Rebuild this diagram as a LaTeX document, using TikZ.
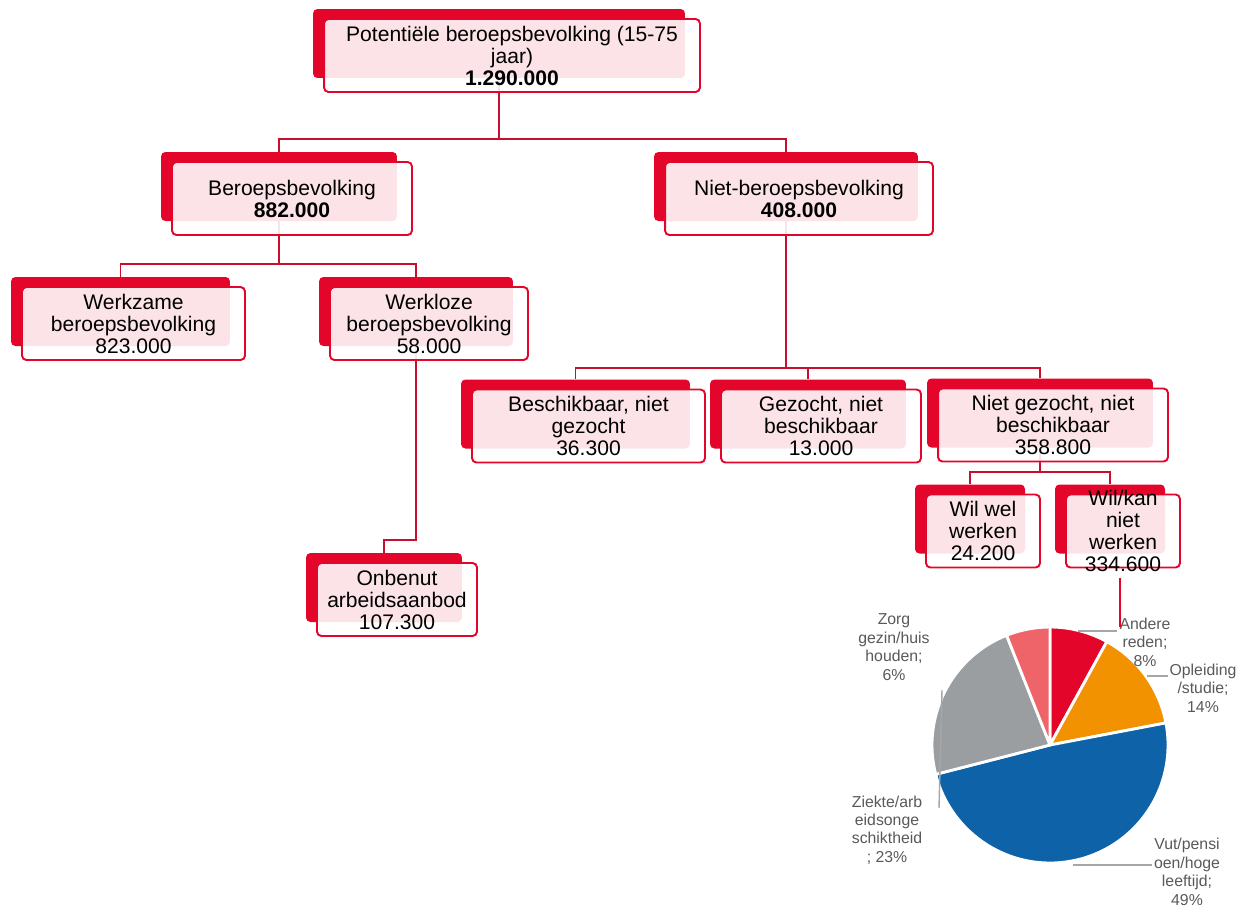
\documentclass[tikz,border=0pt]{standalone}
\usepackage{fontspec}
\setmainfont{Liberation Sans}
\usetikzlibrary{backgrounds}
\definecolor{boxred}{RGB}{227,6,42}
\definecolor{linkred}{RGB}{200,16,46}
\definecolor{pieorange}{RGB}{243,146,0}
\definecolor{pieblue}{RGB}{14,98,168}
\definecolor{piegray}{RGB}{155,158,161}
\definecolor{piesalmon}{RGB}{238,100,104}
\definecolor{labelgray}{RGB}{89,89,89}
\definecolor{leadergray}{RGB}{166,166,166}

\begin{document}
\begin{tikzpicture}[x=0.02cm, y=-0.02cm,
    backbox/.style={rectangle, rounded corners=2.5pt, fill=boxred, inner sep=0pt, minimum height=1.38cm},
    frontbox/.style={rectangle, rounded corners=2.5pt, draw=boxred, line width=1.1pt, fill=white, fill opacity=0.89, inner sep=0pt, minimum height=1.46cm},
    boxtext/.style={align=center, text=black, text opacity=1, inner sep=0pt, font=\fontsize{12}{12.5}\selectfont},
    link/.style={draw=linkred, line width=1.1pt},
    pietext/.style={align=center, text=labelgray, inner sep=1pt, font=\fontsize{9}{10.5}\selectfont},
    leader/.style={draw=leadergray, line width=0.8pt},
    slice/.style={draw=white, line width=1.6pt, line join=round}]
    \useasboundingbox (0,0) rectangle (1250,907);

    % Top level
    \node[backbox, minimum width=7.44cm] (back-1) at (499,43.5) {};
    \node[frontbox, minimum width=7.52cm] (front-1) at ([shift={(13,12)}]back-1) {};
    \node[boxtext] (text-1) at (front-1) {Potentiële beroepsbevolking (15-75\\jaar)\\\textbf{1.290.000}};

    % Second level
    \node[backbox, minimum width=4.72cm] (back-2) at (279,186.5) {};
    \node[frontbox, minimum width=4.80cm] (front-2) at ([shift={(13,12)}]back-2) {};
    \node[boxtext] (text-2) at (front-2) {Beroepsbevolking\\\textbf{882.000}};
    \node[backbox, minimum width=5.28cm] (back-3) at (786,186.5) {};
    \node[frontbox, minimum width=5.36cm] (front-3) at ([shift={(13,12)}]back-3) {};
    \node[boxtext] (text-3) at (front-3) {Niet-beroepsbevolking\\\textbf{408.000}};

    % Third level
    \node[backbox, minimum width=4.38cm] (back-4) at (120.5,311.5) {};
    \node[frontbox, minimum width=4.46cm] (front-4) at ([shift={(13,12)}]back-4) {};
    \node[boxtext] (text-4) at (front-4) {Werkzame\\beroepsbevolking\\823.000};
    \node[backbox, minimum width=3.88cm] (back-5) at (416,311.5) {};
    \node[frontbox, minimum width=3.96cm] (front-5) at ([shift={(13,12)}]back-5) {};
    \node[boxtext] (text-5) at (front-5) {Werkloze\\beroepsbevolking\\58.000};
    \node[backbox, minimum width=4.58cm] (back-6) at (575.5,414) {};
    \node[frontbox, minimum width=4.66cm] (front-6) at ([shift={(13,12)}]back-6) {};
    \node[boxtext] (text-6) at (front-6) {Beschikbaar, niet\\gezocht\\36.300};
    \node[backbox, minimum width=3.92cm] (back-7) at (808,414) {};
    \node[frontbox, minimum width=4.00cm] (front-7) at ([shift={(13,12)}]back-7) {};
    \node[boxtext] (text-7) at (front-7) {Gezocht, niet\\beschikbaar\\13.000};
    \node[backbox, minimum width=4.52cm] (back-8) at (1040,413) {};
    \node[frontbox, minimum width=4.60cm] (front-8) at ([shift={(13,12)}]back-8) {};
    \node[boxtext] (text-8) at (front-8) {Niet gezocht, niet\\beschikbaar\\358.800};

    % Fourth level
    \node[backbox, minimum width=2.20cm] (back-9) at (970,519) {};
    \node[frontbox, minimum width=2.28cm] (front-9) at ([shift={(13,12)}]back-9) {};
    \node[boxtext] (text-9) at (front-9) {Wil wel\\werken\\24.200};
    \node[backbox, minimum width=2.20cm] (back-10) at (1110,519) {};
    \node[frontbox, minimum width=2.28cm] (front-10) at ([shift={(13,12)}]back-10) {};
    \node[boxtext] (text-10) at (front-10) {Wil/kan\\niet\\werken\\334.600};
    \node[backbox, minimum width=3.12cm] (back-11) at (384,587.5) {};
    \node[frontbox, minimum width=3.20cm] (front-11) at ([shift={(13,12)}]back-11) {};
    \node[boxtext] (text-11) at (front-11) {Onbenut\\arbeidsaanbod\\107.300};

    % Connectors
    \coordinate (fork-1) at (499,139);
    \coordinate (fork-2) at (279,264);
    \coordinate (fork-3) at (786,368);
    \coordinate (fork-4) at (1040,472);
    \coordinate (fork-5) at (416,540);
    \begin{pgfonlayer}{background}
        \draw[link] (back-1.south) -- (fork-1) -| (back-2.north);
        \draw[link] (fork-1) -| (back-3.north);
        \draw[link] (back-2.south) -- (fork-2) -| (back-4.north);
        \draw[link] (fork-2) -| (back-5.north);
        \draw[link] (back-3.south) -- (fork-3) -| (back-6.north);
        \draw[link] (fork-3) -| (back-7.north);
        \draw[link] (fork-3) -| (back-8.north);
        \draw[link] (back-8.south) -- (fork-4) -| (back-9.north);
        \draw[link] (fork-4) -| (back-10.north);
        \draw[link] (back-5.south) -- (fork-5) -| (back-11.north);
    \end{pgfonlayer}

    % Pie chart
    \coordinate (pie-c) at (1050,745);
    \path[slice, fill=boxred] (pie-c) -- ++(90:2.36cm) arc[start angle=90, end angle=61.2, radius=2.36cm] -- cycle;
    \path[slice, fill=pieorange] (pie-c) -- ++(61.2:2.36cm) arc[start angle=61.2, end angle=10.8, radius=2.36cm] -- cycle;
    \path[slice, fill=pieblue] (pie-c) -- ++(10.8:2.36cm) arc[start angle=10.8, end angle=-165.6, radius=2.36cm] -- cycle;
    \path[slice, fill=piegray] (pie-c) -- ++(-165.6:2.36cm) arc[start angle=-165.6, end angle=-248.4, radius=2.36cm] -- cycle;
    \path[slice, fill=piesalmon] (pie-c) -- ++(-248.4:2.36cm) arc[start angle=-248.4, end angle=-270, radius=2.36cm] -- cycle;

    \node[pietext] (lab-andere) at (1145,642) {Andere\\reden;\\8\%};
    \node[pietext] (lab-opleiding) at (1203,688) {Opleiding\\/studie;\\14\%};
    \node[pietext] (lab-vut) at (1187,872) {Vut/pensi\\oen/hoge\\leeftijd;\\49\%};
    \node[pietext] (lab-ziekte) at (887,830) {Ziekte/arb\\eidsonge\\schiktheid\\; 23\%};
    \node[pietext] (lab-zorg) at (894,647) {Zorg\\gezin/huis\\houden;\\6\%};

    \coordinate (pt-andere) at (1078,631);
    \coordinate (pt-opleiding) at (1147,676);
    \coordinate (pt-vut) at (1073,865);
    \coordinate (pt-ziekte) at (942,690);
    \coordinate (end-ziekte) at (939,808);
    \draw[leader] (pt-andere) -- (lab-andere.west |- pt-andere);
    \draw[leader] (pt-opleiding) -- (lab-opleiding.west |- pt-opleiding);
    \draw[leader] (pt-vut) -- (lab-vut.west |- pt-vut);
    \draw[leader] (pt-ziekte) -- (end-ziekte);

    % Link to pie
    \coordinate (pie-link) at (1120,627);
    \draw[link, draw=boxred, shorten <=0.2cm] (front-10.south -| pie-link) -- (pie-link);
\end{tikzpicture}
\end{document}
